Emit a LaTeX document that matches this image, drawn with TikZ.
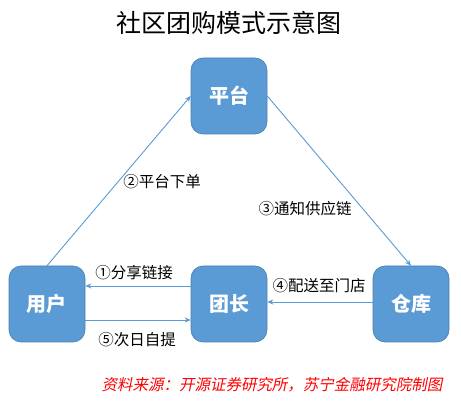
\documentclass[tikz,border=0pt]{standalone}
\usepackage{fontspec}
\setmainfont{Noto Sans CJK SC}
\newfontfamily\cjkslant[FakeSlant=0.2]{Noto Sans CJK SC}
\usetikzlibrary{arrows.meta}
\definecolor{boxblue}{HTML}{5B9BD5}
\definecolor{boxedge}{HTML}{4A7FB0}
\definecolor{arrowblue}{HTML}{5B9BD5}
\tikzset{
  stagebox/.style={draw=boxedge, line width=0.6pt, fill=boxblue, rounded corners=12pt,
    minimum width=76pt, minimum height=76pt, inner sep=0pt, text=white,
    font=\fontsize{20}{22}\selectfont\bfseries},
  flow/.style={draw=arrowblue, line width=0.9pt, -{Stealth[length=6pt,width=5pt]}},
  lbl/.style={font=\fontsize{15.5}{17}\selectfont, text=black, inner sep=0pt},
}
\begin{document}
\begin{tikzpicture}[x=1pt,y=-1pt]
\useasboundingbox[fill=white] (0,0) rectangle (461,406);
\node[font=\fontsize{25}{27}\selectfont] (title) at (229,23) {社区团购模式示意图};
\node[stagebox] (pt) at (229,96) {平台};
\node[stagebox] (yh) at (47,304) {用户};
\node[stagebox] (tz) at (229,304) {团长};
\node[stagebox] (ck) at (411,304) {仓库};
\draw[flow] (yh.north) -- (pt.west);
\draw[flow] (pt.east) -- (ck.north);
\draw[flow] ([yshift=18pt]tz.west) -- ([yshift=18pt]yh.east);
\draw[flow] ([yshift=-16pt]yh.east) -- ([yshift=-16pt]tz.west);
\draw[flow] ([yshift=2pt]ck.west) -- ([yshift=2pt]tz.east);
\node[lbl] (l2) at (162,182) {②平台下单};
\node[lbl] (l3) at (305,209) {③通知供应链};
\node[lbl] (l1) at (134,273) {①分享链接};
\node[lbl] (l4) at (319,286) {④配送至门店};
\node[lbl] (l5) at (137,340) {⑤次日自提};
\node[font=\fontsize{15.5}{17}\selectfont\cjkslant, text=red] (src) at (272,385) {资料来源：开源证券研究所，苏宁金融研究院制图};
\end{tikzpicture}
\end{document}
